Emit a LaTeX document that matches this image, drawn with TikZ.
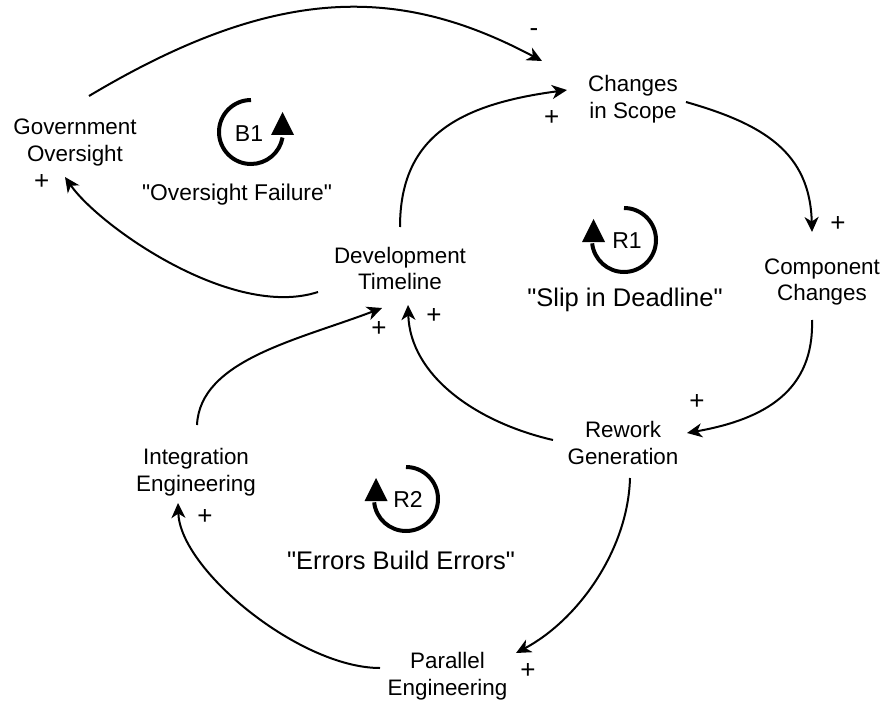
\documentclass[tikz,border=0pt]{standalone}
\usepackage{fontspec}
% plain family: no TeX ligature mapping, so " stays a straight quote
\newfontfamily\lsans{Liberation Sans}
\usetikzlibrary{arrows.meta,calc}
\begin{document}
\begin{tikzpicture}[x=1pt,y=-1pt,
  var/.style={align=center,inner sep=0pt,font=\lsans\fontsize{22.4}{26.5}\selectfont},
  pol/.style={inner sep=0pt,font=\lsans\fontsize{26}{30}\selectfont},
  looplabel/.style={inner sep=0pt,font=\lsans\fontsize{25.5}{30}\selectfont},
  loopid/.style={inner sep=0pt,font=\lsans\fontsize{23}{27}\selectfont},
  link/.style={line width=2pt,-{Stealth[length=15pt,width=14pt,inset=4.5pt]}},
  looparc/.style={line width=4pt},
  loophead/.style={fill=black}]
\useasboundingbox (0,0) rectangle (885,703);

% variables
\node[var] (gov)   at (75,142.6)  {Government\\Oversight};
\node[var] (scope) at (633,99)    {Changes\\in Scope};
\node[var] (comp)  at (822,282)   {Component\\Changes};
\node[var] (dev)   at (400,268.5) {Development\\Timeline};
\node[var] (rew)   at (623,443)   {Rework\\Generation};
\node[var] (integ) at (196,472)   {Integration\\Engineering};
\node[var] (par)   at (447.5,676) {Parallel\\Engineering};

% causal links
\draw[link] ($(gov)+(14,-46.6)$) .. controls +(189,-113) and +(-141,-75) .. ($(scope)+(-91,-38)$);
\draw[link] ($(dev)+(0,-41.5)$) .. controls +(0,-90) and +(-109,14.5) .. ($(scope)+(-66,-9)$);
\draw[link] ($(scope)+(53,3)$) .. controls +(77,22) and +(-2,-80) .. ($(comp)+(-10,-50)$);
\draw[link] ($(comp)+(-10,38)$) .. controls +(2,70) and +(79,-14) .. ($(rew)+(64,-10)$);
\draw[link] ($(rew)+(-70,-3)$) .. controls +(-78,-18) and +(2,70) .. ($(dev)+(8,36.5)$);
\draw[link] ($(dev)+(-82,23.5)$) .. controls +(-86,28) and +(34,49) .. ($(gov)+(-10,34.4)$);
\draw[link] ($(integ)+(1,-47)$) .. controls +(3,-65) and +(-84,32) .. ($(dev)+(-18,39.5)$);
\draw[link] ($(rew)+(7,35)$) .. controls +(-2,72) and +(62,-33) .. ($(par)+(68.5,-23)$);
\draw[link] ($(par)+(-67.5,-8)$) .. controls +(-80,0) and +(2,67) .. ($(integ)+(-18,31)$);

% polarities
\node[pol] (s1) at (534,33)    {-};
\node[pol] (s2) at (551.7,118) {+};
\node[pol] (s3) at (838,224)   {+};
\node[pol] (s4) at (697,401.7) {+};
\node[pol] (s5) at (434,316)   {+};
\node[pol] (s6) at (379,329)   {+};
\node[pol] (s7) at (41.7,181.7){+};
\node[pol] (s8) at (528,670.7) {+};
\node[pol] (s9) at (205,517)   {+};

% loop B1
\draw[looparc] (251,100) arc[start angle=90,end angle=350,radius=32pt];
\fill[loophead] (271,135) -- (282.5,112) -- (294,135) -- cycle;
\node[loopid] (b1) at (249,134) {B1};
\node[looplabel,font=\lsans\fontsize{22.8}{27}\selectfont] (b1t) at (237,195) {"Oversight Failure"};

% loop R1
\draw[looparc] (624,208) arc[start angle=90,end angle=-174,radius=32pt];
\fill[loophead] (582,242) -- (593.5,219) -- (605,242) -- cycle;
\node[loopid] (r1) at (627,241) {R1};
\node[looplabel] (r1t) at (625,299.5) {"Slip in Deadline"};

% loop R2
\draw[looparc] (406,467) arc[start angle=90,end angle=-174,radius=32pt];
\fill[loophead] (364.5,501) -- (376,478) -- (387.5,501) -- cycle;
\node[loopid] (r2) at (408,499) {R2};
\node[looplabel] (r2t) at (401,560) {"Errors Build Errors"};
\end{tikzpicture}
\end{document}
